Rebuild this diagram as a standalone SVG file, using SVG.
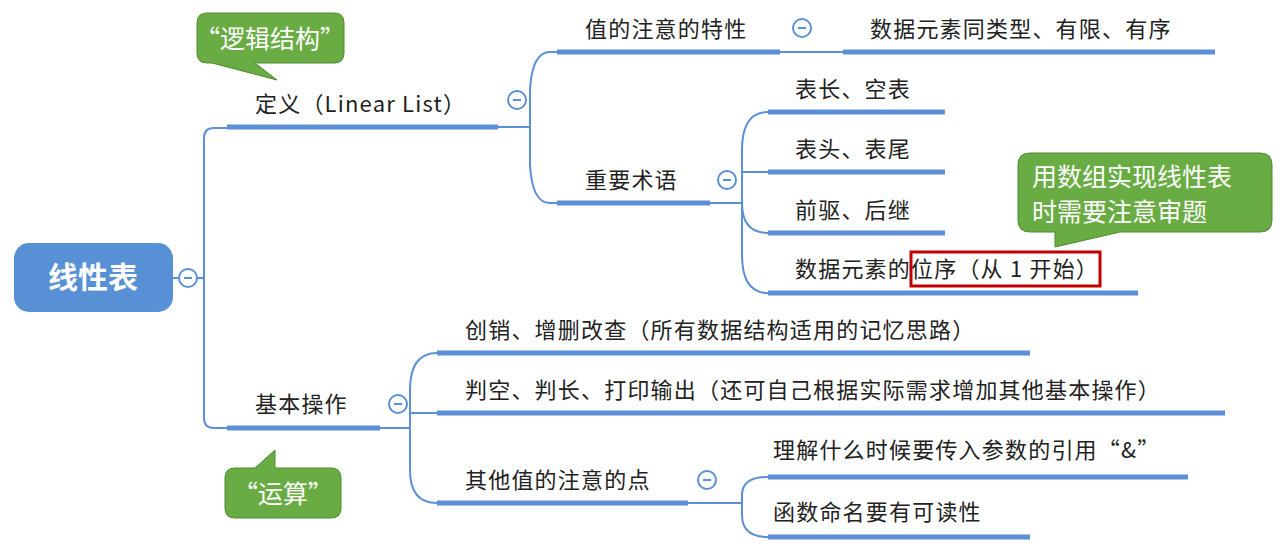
<svg xmlns="http://www.w3.org/2000/svg" width="1287" height="556" viewBox="0 0 1287 556">
<style>
.t{font-family:"Noto Sans CJK SC","Noto Sans",sans-serif;font-size:22px;letter-spacing:1.2px;fill:#222}
.u{stroke:#5b8fd7;stroke-width:5;fill:none}
.c{stroke:#5b8fd7;stroke-width:2;fill:none}
.k{fill:#fff;stroke:#5b8fd7;stroke-width:2}
.m{stroke:#5b8fd7;stroke-width:2}
.cb{fill:#6aac44;stroke:#4d8a30;stroke-width:1}
.ct{font-family:"Noto Sans CJK SC",sans-serif;font-size:25px;fill:#fff}
</style>
<rect width="1287" height="556" fill="#fff"/>
<g id="connectors">
<path class="c" d="M173 278H204M227 128H214Q204 128 204 138V418Q204 428 214 428H227"/>
<path class="c" d="M498 127H530M557 52H550Q532 52 530 90V165Q532 203 550 203H557"/>
<path class="c" d="M780 52H843"/>
<path class="c" d="M710 203H742M768 112Q742 112 742 150V255Q742 293 768 293M742 172Q742 172 768 172M742 203Q742 233 768 233"/>
<path class="c" d="M380 428H410M437 353Q410 353 410 390V470Q410 503 437 503M410 413H437"/>
<path class="c" d="M688 503H742M768 477Q742 477 742 495V515Q742 537 768 537"/>
</g>
<g id="root"><rect x="14" y="243" width="159" height="69" rx="15" fill="#5890d6"/><text x="93" y="288" text-anchor="middle" font-family="Noto Sans CJK SC,sans-serif" font-size="30" font-weight="bold" fill="#fff">线性表</text><circle class="k" cx="188" cy="278" r="9"/><line class="m" x1="184" y1="278" x2="192" y2="278"/></g>
<g id="n-def"><line class="u" x1="227" y1="127" x2="498" y2="127"/><text class="t" x="255" y="112">定义（Linear List）</text><circle class="k" cx="517" cy="100" r="9"/><line class="m" x1="513" y1="100" x2="521" y2="100"/></g>
<g id="n-val"><line class="u" x1="557" y1="52" x2="780" y2="52"/><text class="t" x="585" y="37">值的注意的特性</text><circle class="k" cx="802" cy="28" r="9"/><line class="m" x1="798" y1="28" x2="806" y2="28"/></g>
<g id="n-val1"><line class="u" x1="843" y1="52" x2="1215" y2="52"/><text class="t" x="870" y="37">数据元素同类型、有限、有序</text></g>
<g id="n-term"><line class="u" x1="557" y1="203" x2="710" y2="203"/><text class="t" x="585" y="188">重要术语</text><circle class="k" cx="727" cy="180" r="9"/><line class="m" x1="723" y1="180" x2="731" y2="180"/></g>
<g id="n-t1"><line class="u" x1="768" y1="112" x2="945" y2="112"/><text class="t" x="795" y="97">表长、空表</text></g>
<g id="n-t2"><line class="u" x1="768" y1="172" x2="945" y2="172"/><text class="t" x="795" y="157">表头、表尾</text></g>
<g id="n-t3"><line class="u" x1="768" y1="233" x2="945" y2="233"/><text class="t" x="795" y="218">前驱、后继</text></g>
<g id="n-t4"><line class="u" x1="768" y1="293" x2="1138" y2="293"/><text class="t" x="795" y="277">数据元素的位序（从 1 开始）</text><rect x="911" y="252" width="189" height="34" fill="none" stroke="#c00000" stroke-width="3"/></g>
<g id="n-op"><line class="u" x1="227" y1="428" x2="380" y2="428"/><text class="t" x="255" y="412">基本操作</text><circle class="k" cx="398" cy="404" r="9"/><line class="m" x1="394" y1="404" x2="402" y2="404"/></g>
<g id="n-o1"><line class="u" x1="437" y1="353" x2="1030" y2="353"/><text class="t" x="465" y="338">创销、增删改查（所有数据结构适用的记忆思路）</text></g>
<g id="n-o2"><line class="u" x1="437" y1="413" x2="1225" y2="413"/><text class="t" x="465" y="398">判空、判长、打印输出（还可自己根据实际需求增加其他基本操作）</text></g>
<g id="n-o3"><line class="u" x1="437" y1="503" x2="688" y2="503"/><text class="t" x="465" y="488">其他值的注意的点</text><circle class="k" cx="707" cy="480" r="9"/><line class="m" x1="703" y1="480" x2="711" y2="480"/></g>
<g id="n-o31"><line class="u" x1="768" y1="477" x2="1188" y2="477"/><text class="t" x="773" y="458">理解什么时候要传入参数的引用“&amp;”</text></g>
<g id="n-o32"><line class="u" x1="768" y1="537" x2="1030" y2="537"/><text class="t" x="773" y="520">函数命名要有可读性</text></g>
<g id="call1"><path class="cb" d="M207 13H334Q344 13 344 23V53Q344 63 334 63H255L277 80L212 63H207Q197 63 197 53V23Q197 13 207 13Z"/><text class="ct" x="270" y="48" text-anchor="middle">“逻辑结构”</text></g>
<g id="call2"><path class="cb" d="M1030 153H1260Q1272 153 1272 165V220Q1272 232 1260 232H1120L1055 247V232H1030Q1018 232 1018 220V165Q1018 153 1030 153Z"/><text class="ct" x="1032" y="186">用数组实现线性表</text><text class="ct" x="1032" y="221">时需要注意审题</text></g>
<g id="call3"><path class="cb" d="M235 468H255L275 450V468H331Q341 468 341 478V508Q341 518 331 518H235Q225 518 225 508V478Q225 468 235 468Z"/><text class="ct" x="283" y="503" text-anchor="middle">“运算”</text></g>
</svg>
